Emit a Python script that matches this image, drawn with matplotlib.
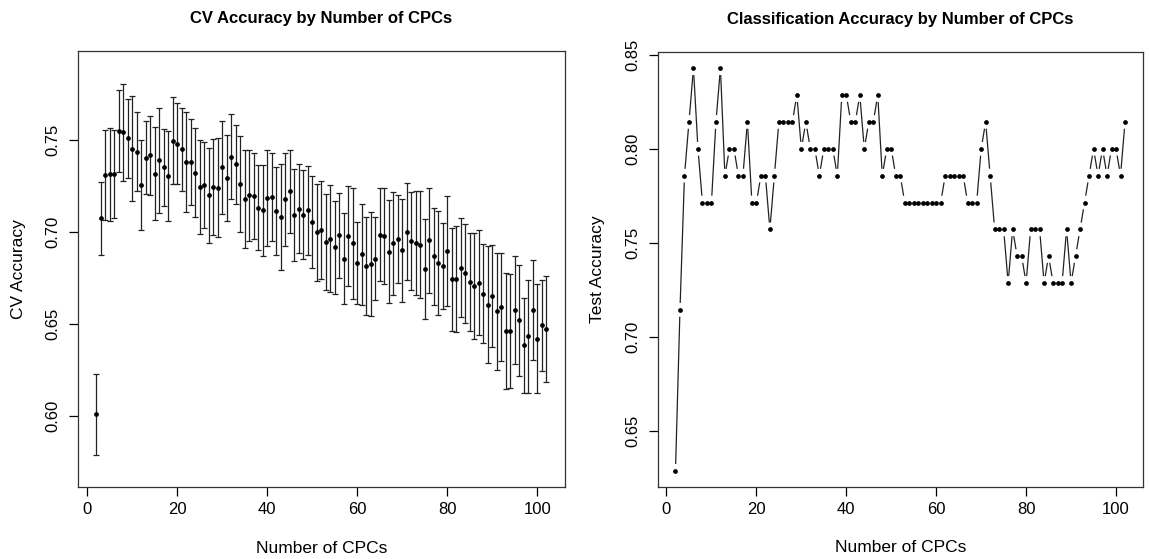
import numpy as np
import matplotlib
matplotlib.use("Agg")
import matplotlib.pyplot as plt

plt.rcParams['font.family'] = ['Liberation Sans', 'DejaVu Sans']

# numero de CPCs (2..102)
n_cpcs = list(range(2, 103))

# accuracy media de la validacion cruzada
cv_mean = [
    0.6010, 0.7076, 0.7310, 0.7314, 0.7317, 0.7551, 0.7543, 0.7511, 0.7455, 0.7437,  # 2-11
    0.7256, 0.7406, 0.7419, 0.7319, 0.7390, 0.7352, 0.7306, 0.7498, 0.7482, 0.7451,  # 12-21
    0.7382, 0.7382, 0.7323, 0.7247, 0.7256, 0.7201, 0.7247, 0.7243, 0.7352, 0.7297,  # 22-31
    0.7411, 0.7370, 0.7261, 0.7180, 0.7201, 0.7196, 0.7134, 0.7118, 0.7187, 0.7192,  # 32-41
    0.7114, 0.7082, 0.7178, 0.7223, 0.7093, 0.7127, 0.7096, 0.7118, 0.7057, 0.7000,  # 42-51
    0.7013, 0.6946, 0.6964, 0.6917, 0.6984, 0.6856, 0.6979, 0.6939, 0.6834, 0.6879,  # 52-61
    0.6816, 0.6827, 0.6856, 0.6986, 0.6980, 0.6895, 0.6939, 0.6964, 0.6901, 0.7002,  # 62-71
    0.6953, 0.6942, 0.6933, 0.6799, 0.6955, 0.6870, 0.6832, 0.6814, 0.6897, 0.6743,  # 72-81
    0.6745, 0.6808, 0.6776, 0.6729, 0.6709, 0.6725, 0.6665, 0.6607, 0.6653, 0.6570,  # 82-91
    0.6595, 0.6461, 0.6463, 0.6577, 0.6521, 0.6385, 0.6434, 0.6577, 0.6421, 0.6493,  # 92-101
    0.6474,                                                                          # 102
]

# desviacion (semiancho de las barras de error)
cv_sd = [
    0.0221, 0.0198, 0.0243, 0.0252, 0.0238, 0.0224, 0.0262, 0.0215, 0.0283, 0.0215,
    0.0245, 0.0201, 0.0215, 0.0252, 0.0283, 0.0208, 0.0244, 0.0236, 0.0220, 0.0225,
    0.0272, 0.0233, 0.0243, 0.0256, 0.0233, 0.0257, 0.0260, 0.0268, 0.0255, 0.0234,
    0.0233, 0.0214, 0.0261, 0.0265, 0.0247, 0.0233, 0.0233, 0.0250, 0.0262, 0.0238,
    0.0238, 0.0290, 0.0251, 0.0226, 0.0248, 0.0242, 0.0242, 0.0244, 0.0249, 0.0263,
    0.0265, 0.0259, 0.0291, 0.0252, 0.0231, 0.0248, 0.0272, 0.0304, 0.0223, 0.0275,
    0.0266, 0.0282, 0.0224, 0.0252, 0.0261, 0.0281, 0.0280, 0.0240, 0.0278, 0.0264,
    0.0268, 0.0283, 0.0292, 0.0272, 0.0286, 0.0263, 0.0281, 0.0234, 0.0299, 0.0280,
    0.0287, 0.0268, 0.0268, 0.0268, 0.0287, 0.0285, 0.0269, 0.0316, 0.0279, 0.0317,
    0.0293, 0.0316, 0.0308, 0.0295, 0.0302, 0.0260, 0.0306, 0.0271, 0.0295, 0.0247,
    0.0287,
]

# accuracy en el conjunto de test
test_acc = [
    0.6286, 0.7143, 0.7857, 0.8143, 0.8429, 0.8000, 0.7714, 0.7714, 0.7714, 0.8143,  # 2-11
    0.8429, 0.7857, 0.8000, 0.8000, 0.7857, 0.7857, 0.8143, 0.7714, 0.7714, 0.7857,  # 12-21
    0.7857, 0.7571, 0.7857, 0.8143, 0.8143, 0.8143, 0.8143, 0.8286, 0.8000, 0.8143,  # 22-31
    0.8000, 0.8000, 0.7857, 0.8000, 0.8000, 0.8000, 0.7857, 0.8286, 0.8286, 0.8143,  # 32-41
    0.8143, 0.8286, 0.8000, 0.8143, 0.8143, 0.8286, 0.7857, 0.8000, 0.8000, 0.7857,  # 42-51
    0.7857, 0.7714, 0.7714, 0.7714, 0.7714, 0.7714, 0.7714, 0.7714, 0.7714, 0.7714,  # 52-61
    0.7857, 0.7857, 0.7857, 0.7857, 0.7857, 0.7714, 0.7714, 0.7714, 0.8000, 0.8143,  # 62-71
    0.7857, 0.7571, 0.7571, 0.7571, 0.7286, 0.7571, 0.7429, 0.7429, 0.7286, 0.7571,  # 72-81
    0.7571, 0.7571, 0.7286, 0.7429, 0.7286, 0.7286, 0.7286, 0.7571, 0.7286, 0.7429,  # 82-91
    0.7571, 0.7714, 0.7857, 0.8000, 0.7857, 0.8000, 0.7857, 0.8000, 0.8000, 0.7857,  # 92-101
    0.8143,                                                                          # 102
]

W, H = 1149, 559
fig = plt.figure(figsize=(W / 100, H / 100), dpi=100)

def caja(x0, x1, y0, y1):
    return [x0 / W, 1 - y1 / H, (x1 - x0) / W, (y1 - y0) / H]

ax1 = fig.add_axes(caja(78, 564.5, 51, 487))
ax2 = fig.add_axes(caja(657.5, 1143, 52, 487))

# --- panel izquierdo: CV con barras de error
ax1.errorbar(n_cpcs, cv_mean, yerr=cv_sd, fmt='o', color='black', ms=2.4,
             ecolor='#222222', elinewidth=0.9, capsize=2.3, capthick=0.9)
ax1.set_xlim(-2, 106)
ax1.set_ylim(0.5615, 0.7985)
ax1.set_yticks([0.60, 0.65, 0.70, 0.75])
ax1.set_yticklabels(['0.60', '0.65', '0.70', '0.75'])

# --- panel derecho: tipo "b" de R (puntos con lineas cortadas)
ax2.set_xlim(-2, 106)
ax2.set_ylim(0.6200, 0.8515)
ax2.set_yticks([0.65, 0.70, 0.75, 0.80, 0.85])
ax2.set_yticklabels(['0.65', '0.70', '0.75', '0.80', '0.85'])
ax2.plot(n_cpcs, test_acc, 'o', color='black', ms=2.4, ls='none')

gap = 7.5  # pixeles
pts = ax2.transData.transform(np.column_stack([n_cpcs, test_acc]))
inv = ax2.transData.inverted()
for p1, p2 in zip(pts[:-1], pts[1:]):
    d = p2 - p1
    L = np.hypot(*d)
    if L <= 2 * gap:
        continue
    u = d / L
    a = inv.transform(p1 + u * gap)
    b = inv.transform(p2 - u * gap)
    ax2.plot([a[0], b[0]], [a[1], b[1]], color='#222222', lw=0.9)

titulos = ['CV Accuracy by Number of CPCs', 'Classification Accuracy by Number of CPCs']
ylabs = ['CV Accuracy', 'Test Accuracy']
for ax, t, yl in zip([ax1, ax2], titulos, ylabs):
    ax.set_xticks([0, 20, 40, 60, 80, 100])
    ax.tick_params(direction='out', length=6.5, width=0.9, labelsize=12, pad=4)
    ax.tick_params(axis='y', pad=6)
    for lab in ax.get_yticklabels():
        lab.set_rotation(90)
        lab.set_va('center')
    for s in ax.spines.values():
        s.set_linewidth(0.9)
        s.set_color('#333333')
    ax.text(0.5, 1.075, t, transform=ax.transAxes, ha='center', va='center',
            fontsize=12, fontweight='bold')
    ax.set_xlabel('Number of CPCs', fontsize=12.5)
    ax.set_ylabel(yl, fontsize=12.5)
    ax.xaxis.set_label_coords(0.5, -0.14)
    ax.yaxis.set_label_coords(-0.123, 0.5)
    ax.xaxis.label.set_va('center')
    ax.yaxis.label.set_va('center')

fig.savefig('out.png', dpi=100)
